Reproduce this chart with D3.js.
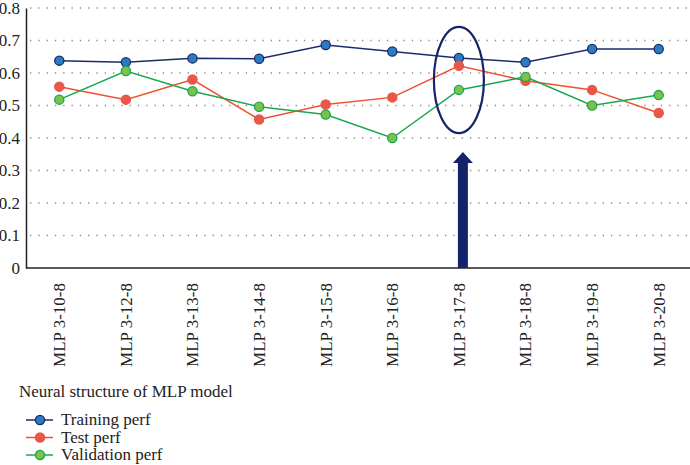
<!DOCTYPE html>
<html>
<head>
<meta charset="utf-8">
<script src="https://cdn.jsdelivr.net/npm/d3@7"></script>
<style>
  body { margin: 0; background: #fff; }
  svg { display: block; font-family: 'Liberation Serif', 'DejaVu Serif', serif; }
</style>
</head>
<body>
<div id="chart"></div>
<script>
const categories = ['MLP 3-10-8', 'MLP 3-12-8', 'MLP 3-13-8', 'MLP 3-14-8', 'MLP 3-15-8',
                    'MLP 3-16-8', 'MLP 3-17-8', 'MLP 3-18-8', 'MLP 3-19-8', 'MLP 3-20-8'];
const trainingPerf   = [0.638, 0.633, 0.645, 0.644, 0.686, 0.666, 0.646, 0.633, 0.674, 0.674];
const testPerf       = [0.558, 0.518, 0.580, 0.457, 0.503, 0.525, 0.622, 0.576, 0.548, 0.477];
const validationPerf = [0.518, 0.606, 0.544, 0.496, 0.472, 0.400, 0.548, 0.588, 0.500, 0.532];
const yTicks = [0, 0.1, 0.2, 0.3, 0.4, 0.5, 0.6, 0.7, 0.8];
const seriesNames = ['Training perf', 'Test perf', 'Validation perf'];
const highlight = 'MLP 3-17-8';

const SERIES = [
  { name: seriesNames[0], values: trainingPerf,   line: '#1d2b6b', fill: '#2b7bc1', stroke: '#1d2b6b' },
  { name: seriesNames[1], values: testPerf,       line: '#f0502e', fill: '#e8574a', stroke: '#e8574a' },
  { name: seriesNames[2], values: validationPerf, line: '#17a84c', fill: '#7cc04f', stroke: '#17a84c' },
];
const NAVY = '#15246a';
const FONT = "'Liberation Serif', serif";

const width = 690, height = 465;
const margin = { top: 8, right: -2, bottom: 197, left: 26 };

const svg = d3.select('#chart')
  .append('svg')
  .attr('width', width)
  .attr('height', height);

const x = d3.scaleBand()
  .domain(categories)
  .range([margin.left, width - margin.right]);

const y = d3.scaleLinear()
  .domain([0, 0.8])
  .range([height - margin.bottom, margin.top]);

const cx = d => x(d) + x.bandwidth() / 2;

// dotted gridlines
svg.append('g')
  .selectAll('line')
  .data(yTicks.filter(t => t > 0))
  .join('line')
  .attr('x1', margin.left + 4)
  .attr('x2', width)
  .attr('y1', d => y(d))
  .attr('y2', d => y(d))
  .attr('stroke', '#888')
  .attr('stroke-width', 1.3)
  .attr('stroke-dasharray', '1.3,7');

// y axis
const yAxis = svg.append('g')
  .attr('transform', `translate(${margin.left},0)`)
  .call(d3.axisLeft(y).tickValues(yTicks).tickFormat(d => d === 0 ? '0' : d3.format('.1f')(d)).tickSize(0).tickPadding(6));
yAxis.select('.domain').attr('stroke', '#222').attr('stroke-width', 1.5);
yAxis.selectAll('text').attr('font-size', 17).attr('font-family', FONT).attr('fill', '#222');

// x axis
const xAxis = svg.append('g')
  .attr('transform', `translate(0,${y(0)})`)
  .call(d3.axisBottom(x).tickSize(0).tickPadding(0));
xAxis.select('.domain').attr('stroke', '#222').attr('stroke-width', 1.5).attr('d', `M${margin.left},0H${width}`);
xAxis.selectAll('text')
  .attr('font-size', 17)
  .attr('font-family', FONT)
  .attr('fill', '#222')
  .attr('text-anchor', 'end')
  .attr('transform', 'rotate(-90)')
  .attr('x', -15)
  .attr('y', 0)
  .attr('dy', '0.35em');

// lines and markers
const lineGen = d3.line()
  .x((d, i) => cx(categories[i]))
  .y(d => y(d));

SERIES.forEach(s => {
  svg.append('path')
    .datum(s.values)
    .attr('fill', 'none')
    .attr('stroke', s.line)
    .attr('stroke-width', 1.5)
    .attr('d', lineGen);
});
SERIES.forEach(s => {
  svg.append('g')
    .selectAll('circle')
    .data(s.values)
    .join('circle')
    .attr('cx', (d, i) => cx(categories[i]))
    .attr('cy', d => y(d))
    .attr('r', 4.6)
    .attr('fill', s.fill)
    .attr('stroke', s.stroke)
    .attr('stroke-width', 1.3);
});

// highlight ellipse and arrow
const hx = cx(highlight);
svg.append('ellipse')
  .attr('cx', hx)
  .attr('cy', (y(0.742) + y(0.415)) / 2)
  .attr('rx', 25)
  .attr('ry', (y(0.415) - y(0.742)) / 2)
  .attr('fill', 'none')
  .attr('stroke', NAVY)
  .attr('stroke-width', 2.2);

const ax = hx + 4;
const tipY = y(0.357), headY = tipY + 11, baseY = y(0);
svg.append('path')
  .attr('d', `M${ax},${tipY}L${ax + 10},${headY}L${ax + 5},${headY}L${ax + 5},${baseY}L${ax - 5},${baseY}L${ax - 5},${headY}L${ax - 10},${headY}Z`)
  .attr('fill', NAVY);

// legend
const legend = svg.append('g');
legend.append('text')
  .attr('x', 19)
  .attr('y', 397)
  .attr('font-size', 17)
  .attr('fill', '#222')
  .text('Neural structure of MLP model');

const item = legend.selectAll('g.item')
  .data(SERIES)
  .join('g')
  .attr('class', 'item')
  .attr('transform', (d, i) => `translate(0,${420 + i * 17.5})`);
item.append('line')
  .attr('x1', 26).attr('x2', 53)
  .attr('stroke', d => d.line)
  .attr('stroke-width', 1.5);
item.append('circle')
  .attr('cx', 40)
  .attr('r', 4.6)
  .attr('fill', d => d.fill)
  .attr('stroke', d => d.stroke)
  .attr('stroke-width', 1.3);
item.append('text')
  .attr('x', 61)
  .attr('dy', '0.32em')
  .attr('font-size', 17)
  .attr('fill', '#222')
  .text(d => d.name);
</script>
</body>
</html>
